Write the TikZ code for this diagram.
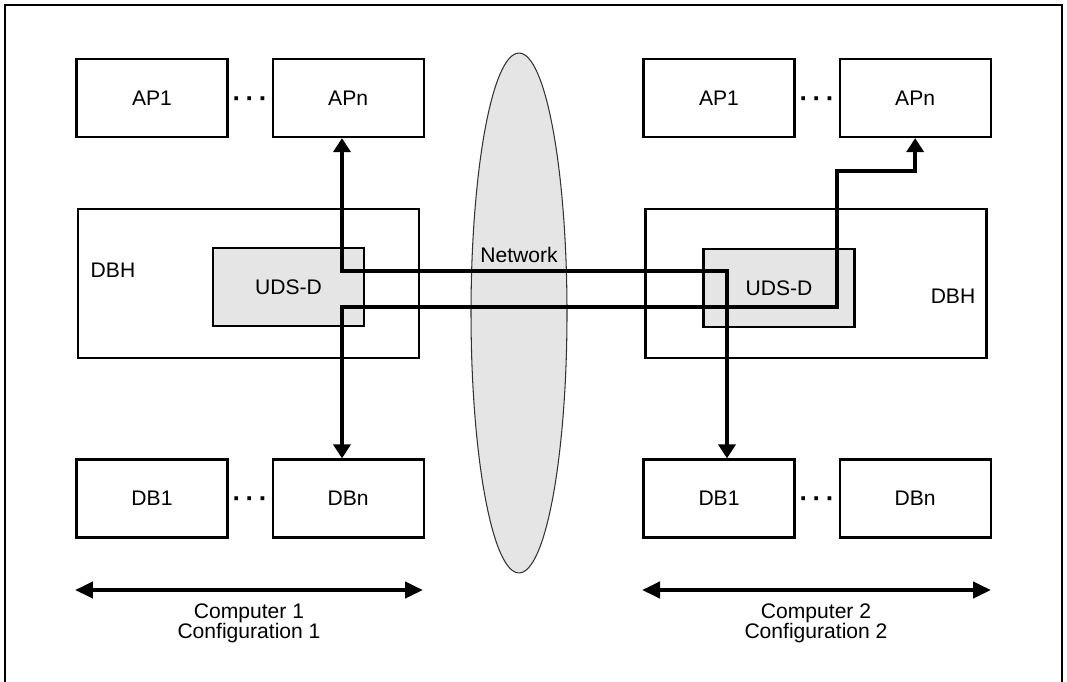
\documentclass[tikz,border=0pt]{standalone}
\usepackage{fontspec}
\setmainfont{Liberation Sans}
\usepackage{xcolor}
\usetikzlibrary{arrows.meta,positioning,shapes.geometric,calc}
\definecolor{udsgray}{gray}{0.9}
\tikzset{
  every node/.style={font=\fontsize{12}{11.5}\selectfont},
  box/.style={draw, rectangle, line width=1.25pt, minimum width=3.02cm, minimum height=1.56cm, inner sep=0pt},
  hostbox/.style={draw, rectangle, line width=1.25pt, minimum width=6.82cm, minimum height=2.98cm, inner sep=0pt},
  udsbox/.style={box, fill=udsgray},
  dots/.style={font=\fontsize{15}{15}\selectfont\bfseries, inner sep=0pt},
  link/.style={line width=2.6pt, {Triangle[width=0.34cm,length=0.28cm]}-{Triangle[width=0.34cm,length=0.28cm]}},
  span/.style={line width=2.4pt, {Triangle[width=0.32cm,length=0.36cm]}-{Triangle[width=0.32cm,length=0.36cm]}}
}
\begin{document}
\begin{tikzpicture}[x=0.02cm, y=-0.02cm]
\useasboundingbox (0,0) rectangle (1067,682);

% 0. Frame (open at the bottom)
\draw[line width=1.1pt] (5,682) -- (5,5) -- (1062,5) -- (1062,682);

% 1. Network in the middle
\node[ellipse, draw=black!80, line width=0.6pt, fill=udsgray, minimum width=1.92cm, minimum height=10.4cm, inner sep=0pt] (net) at (519,313) {};
\node (netlbl) at (519,255) {Network};

% 2. Computer 1
\node[box] (ap1L) at (152,98) {AP1};
\node[box, right=0.86cm of ap1L] (apnL) {APn};
\node[dots] (dotsAL) at ($(ap1L.east)!0.5!(apnL.west)+(0,4)$) {·\,·\,·};

\node[hostbox] (dbhL) at (248.5,283.5) {};
\node (dbhlblL) at (113,270) {DBH};
\node[udsbox] (udsL) at (288.5,287) {UDS-D};

\node[box] (db1L) at (152,498.5) {DB1};
\node[box, right=0.86cm of db1L] (dbnL) {DBn};
\node[dots] (dotsBL) at ($(db1L.east)!0.5!(dbnL.west)+(0,4)$) {·\,·\,·};

% 3. Computer 2
\node[box] (ap1R) at (719,98) {AP1};
\node[box, right=0.86cm of ap1R] (apnR) {APn};
\node[dots] (dotsAR) at ($(ap1R.east)!0.5!(apnR.west)+(0,4)$) {·\,·\,·};

\node[hostbox] (dbhR) at (816,283.5) {};
\node (dbhlblR) at (953,296) {DBH};
\node[udsbox] (udsR) at (779,288) {UDS-D};

\node[box] (db1R) at (719,498.5) {DB1};
\node[box, right=0.86cm of db1R] (dbnR) {DBn};
\node[dots] (dotsBR) at ($(db1R.east)!0.5!(dbnR.west)+(0,4)$) {·\,·\,·};

% 4. Connections through the network
\coordinate (aL) at (342,271);
\coordinate (aR) at (727,271);
\coordinate (bL) at (342,307);
\coordinate (bR) at (837,307);
\coordinate (bT) at (837,171);

\draw[link] (apnL.south -| aL) -- (aL) -- (aR) -- (aR |- db1R.north);
\draw[link] (dbnL.north -| bL) -- (bL) -- (bR) -- (bT) -- (bT -| apnR.south) -- (apnR.south);

% 5. Extent of each computer
\coordinate (sL1) at (75,590);
\coordinate (sL2) at (423,590);
\coordinate (sR1) at (642,590);
\coordinate (sR2) at (991,590);
\draw[span] (sL1) -- (sL2);
\draw[span] (sR1) -- (sR2);
\node[align=center] (cfgL) at (249,623) {Computer 1\\Configuration 1};
\node[align=center] (cfgR) at (816,623) {Computer 2\\Configuration 2};

\end{tikzpicture}
\end{document}
